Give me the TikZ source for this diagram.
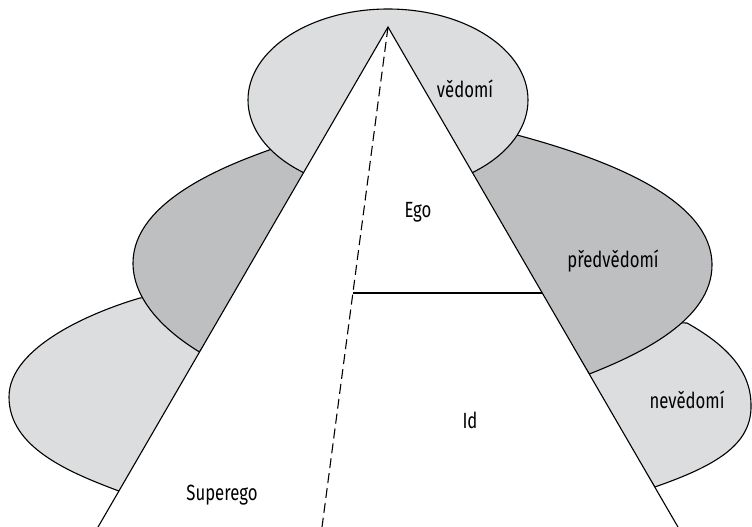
\documentclass[tikz,border=0pt]{standalone}
\usepackage{fontspec}
\setmainfont{Fira Sans}[FakeStretch=0.76]
\definecolor{lgray}{RGB}{220,221,223}
\definecolor{dgray}{RGB}{190,191,193}
\tikzset{zone/.style = {draw, line width=1.1pt},
         lbl/.style = {anchor=base, font=\fontsize{22}{26}\selectfont}}

\begin{document}
\begin{tikzpicture}[x=1pt, y=-1pt, line width=1.1pt]
      \useasboundingbox (0, 0) rectangle (752, 527);
      \clip (0, 0) rectangle (752, 527);

      \coordinate (apex) at (388, 27);
      \coordinate (bl) at (90.5, 540);
      \coordinate (br) at (685.5, 540);
      \coordinate (foot) at (320.3, 540);
      \coordinate (cut-l) at (353, 293);
      \coordinate (cut-r) at (542.3, 293);

      % lower zones first, upper ones lie on top
      \draw [zone, fill=lgray] (118.9, 491) .. controls (68, 472) and (9, 447) .. (9, 397) .. controls (9, 347) and (92, 312) .. (140, 298) -- (240, 290) -- (140, 491) -- cycle;
      \draw [zone, fill=lgray] (654.8, 487) .. controls (715, 466) and (752, 445) .. (751, 405) .. controls (751, 365) and (717, 340) .. (687, 323) -- (550, 320) -- cycle;

      \draw [zone, fill=dgray] (199.5, 352) .. controls (165, 331) and (133, 300) .. (133, 263) .. controls (133, 200) and (230, 164) .. (272, 149) -- (340, 135) -- cycle;
      \draw [zone, fill=dgray] (589.3, 374) .. controls (640, 354) and (712, 320) .. (712, 265) .. controls (712, 200) and (610, 160) .. (517, 135) -- (440, 130) -- cycle;

      \draw [zone, fill=lgray] (388, 100) ellipse [x radius=140, y radius=91];

      \draw [fill=white] (apex) -- (bl) -- (br) -- cycle;
      \draw [dash pattern=on 10pt off 5pt] (apex) -- (foot);
      \draw (cut-l) -- (cut-r);

      \node [lbl] (vedomi) at (465, 97) {vědomí};
      \node [lbl] (predvedomi) at (613, 267) {předvědomí};
      \node [lbl] (nevedomi) at (687, 408) {nevědomí};
      \node [lbl] (ego) at (418, 217) {Ego};
      \node [lbl] (id) at (470, 428) {Id};
      \node [lbl] (superego) at (222, 500) {Superego};
\end{tikzpicture}
\end{document}
